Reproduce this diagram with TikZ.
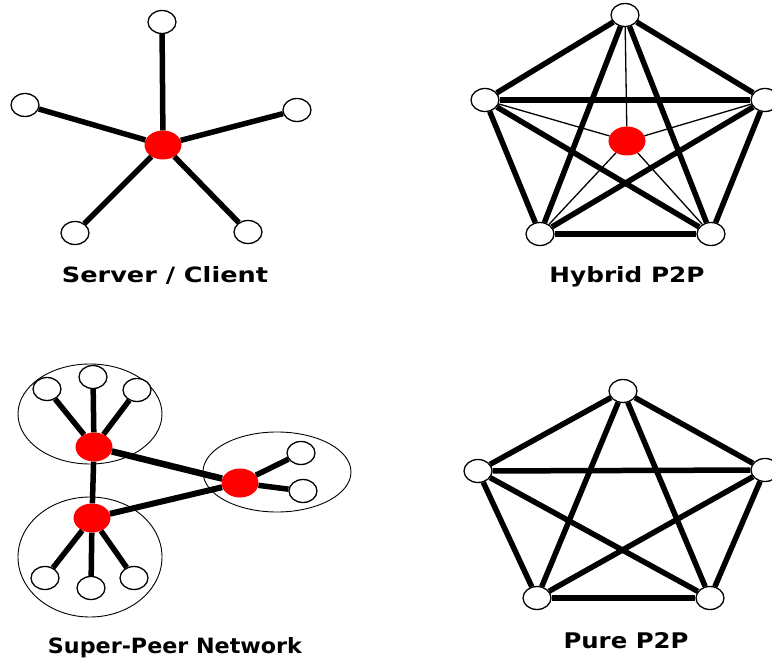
\documentclass[tikz,border=0pt]{standalone}
\usepackage{fontspec}
\usepackage{graphicx}
\setmainfont{DejaVu Sans}
\usetikzlibrary{shapes.geometric}
\definecolor{peerred}{RGB}{255,0,0}
\tikzset{
  peer/.style={ellipse, draw=black, line width=1.3pt, fill=white,
    minimum width=28pt, minimum height=23pt, inner sep=0pt},
  hub/.style={ellipse, fill=peerred, draw=none,
    minimum width=37pt, minimum height=29pt, inner sep=0pt},
  link/.style={line width=5.5pt},
  thinlink/.style={line width=1.3pt},
  cluster/.style={draw=black, line width=0.9pt},
  caption/.style={anchor=base, inner sep=0pt}
}
% caption text: bold, stretched to a given width and height
\newcommand{\capt}[2]{\resizebox{#1}{16pt}{\bfseries #2}}
\begin{document}
\begin{tikzpicture}[x=1pt, y=-1pt]
\useasboundingbox (0,0) rectangle (772,658);
\clip (0,0) rectangle (772,658);

% ---------- Server / Client ----------
\node[hub]  (sc) at (163,145) {};
\node[peer] (s1) at (162,22) {};
\node[peer] (s2) at (25,105) {};
\node[peer] (s3) at (297,110) {};
\node[peer] (s4) at (75,233) {};
\node[peer] (s5) at (248,232) {};
\foreach \n in {s1,s2,s3,s4,s5} \draw[link] (sc) -- (\n);
\node[caption] (lsc) at (165,282) {\capt{206pt}{Server / Client}};

% ---------- Hybrid P2P ----------
\node[peer] (h1) at (625,15) {};
\node[peer] (h2) at (485,100) {};
\node[peer] (h3) at (765,100) {};
\node[peer] (h4) at (540,234) {};
\node[peer] (h5) at (711,234) {};
\node[hub]  (h0) at (627,141) {};
\foreach \a/\b in {h1/h2,h1/h3,h1/h4,h1/h5,h2/h3,h2/h4,h2/h5,h3/h4,h3/h5,h4/h5}
  \draw[link] (\a) -- (\b);
\foreach \n in {h1,h2,h3,h4,h5} \draw[thinlink] (h0) -- (\n);
\node[caption] (lhy) at (627,282) {\capt{155pt}{Hybrid P2P}};

% ---------- Super-Peer Network ----------
\draw[cluster] (90,414) ellipse [x radius=72, y radius=50];
\draw[cluster] (90,557) ellipse [x radius=72, y radius=60];
\draw[cluster] (277,472) ellipse [x radius=74, y radius=40];
\node[hub]  (ua) at (94,447) {};
\node[hub]  (lb) at (92,518) {};
\node[hub]  (rc) at (240,483) {};
\node[peer] (u1) at (47,389) {};
\node[peer] (u2) at (93,377) {};
\node[peer] (u3) at (137,390) {};
\node[peer] (l1) at (45,578) {};
\node[peer] (l2) at (91,588) {};
\node[peer] (l3) at (134,578) {};
\node[peer] (r1) at (301,453) {};
\node[peer] (r2) at (303,491) {};
\foreach \n in {u1,u2,u3} \draw[link] (ua) -- (\n);
\foreach \n in {l1,l2,l3} \draw[link] (lb) -- (\n);
\foreach \n in {r1,r2} \draw[link] (rc) -- (\n);
\draw[link] (ua) -- (lb);
\draw[line width=6.5pt] (ua) -- (rc);
\draw[line width=6pt] (lb) -- (rc);
\node[caption] (lsp) at (175,653) {\capt{254pt}{Super-Peer Network}};

% ---------- Pure P2P ----------
\node[peer] (p1) at (623,391) {};
\node[peer] (p2) at (478,471) {};
\node[peer] (p3) at (765,470) {};
\node[peer] (p4) at (537,598) {};
\node[peer] (p5) at (710,598) {};
\foreach \a/\b in {p1/p2,p1/p3,p1/p4,p1/p5,p2/p3,p2/p4,p2/p5,p3/p4,p3/p5,p4/p5}
  \draw[link] (\a) -- (\b);
\node[caption] (lpu) at (626,648) {\capt{125pt}{Pure P2P}};
\end{tikzpicture}
\end{document}
